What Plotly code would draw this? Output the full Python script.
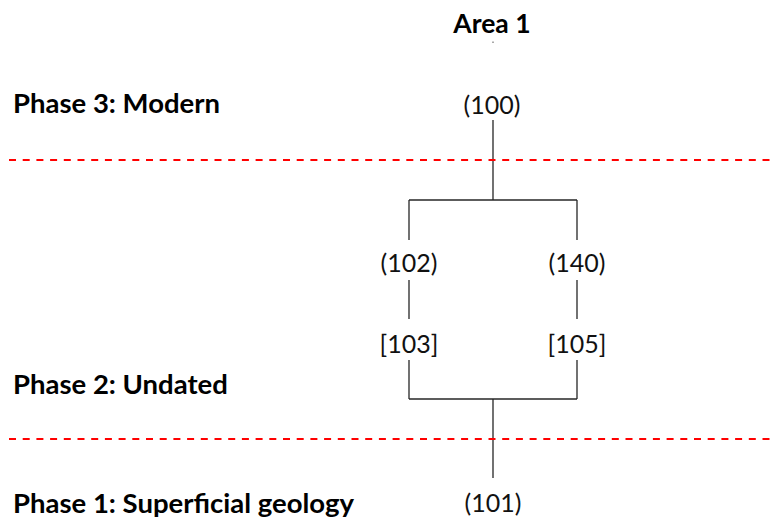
import plotly.graph_objects as go

# ---- data ----
title_text = "Area 1"
phase_labels = ["Phase 3: Modern", "Phase 2: Undated", "Phase 1: Superficial geology"]
phase_y = [106, 387, 506]
boundary_y = [160, 439]

node_labels = ["(100)", "(102)", "(140)", "[103]", "[105]", "(101)"]
node_x = [492, 409, 577, 409, 577, 493]
node_y = [108, 266, 266, 347, 347, 506]

# connector geometry (y levels)
top_line = [120, 200]          # (100) down to split bar
branch_top = [200, 240]        # split bar down to (102)/(140)
branch_mid = [280, 319]        # (102)->[103], (140)->[105]
branch_low = [360, 399]        # [103]/[105] down to join bar
bottom_line = [399, 478]       # join bar down to (101)
stem_x = 493

W, H = 774, 524

fig = go.Figure()

line_style = dict(color="#262626", width=1.3)

def add_line(xs, ys, style=line_style):
    fig.add_trace(go.Scatter(x=xs, y=ys, mode="lines", line=style,
                             hoverinfo="skip", showlegend=False))

left_x, right_x = node_x[1], node_x[2]
add_line([stem_x, stem_x], top_line)
add_line([left_x, right_x], [branch_top[0], branch_top[0]])
for bx in (left_x, right_x):
    add_line([bx, bx], branch_top)
    add_line([bx, bx], branch_mid)
    add_line([bx, bx], branch_low)
add_line([left_x, right_x], [branch_low[1], branch_low[1]])
add_line([stem_x, stem_x], bottom_line)
# tiny mark under title
add_line([493, 493], [41.5, 43], dict(color="#555", width=1))

# phase boundaries
for by in boundary_y:
    add_line([9, 772], [by, by], dict(color="#ff0000", width=2, dash="7px,6.7px"))

# node labels
fig.add_trace(go.Scatter(x=node_x, y=node_y, mode="text", text=node_labels,
                         textposition="middle center",
                         textfont=dict(family="Lato", size=25, color="#111"),
                         hoverinfo="skip", showlegend=False))

# phase labels
fig.add_trace(go.Scatter(x=[13] * len(phase_labels), y=phase_y, mode="text",
                         text=["<b>%s</b>" % p for p in phase_labels],
                         textposition="middle right",
                         textfont=dict(family="Lato", size=27.5, color="#000"),
                         hoverinfo="skip", showlegend=False))

# title
fig.add_trace(go.Scatter(x=[492], y=[26], mode="text", text=["<b>%s</b>" % title_text],
                         textposition="middle center",
                         textfont=dict(family="Lato", size=26.5, color="#000"),
                         hoverinfo="skip", showlegend=False))

fig.update_xaxes(range=[0, W], visible=False, fixedrange=True)
fig.update_yaxes(range=[H, 0], visible=False, fixedrange=True)
fig.update_layout(width=W, height=H, margin=dict(l=0, r=0, t=0, b=0),
                  plot_bgcolor="white", paper_bgcolor="white", showlegend=False)

fig.write_html("out.html", config={"displayModeBar": False},
               post_script="document.body.style.margin='0';")
